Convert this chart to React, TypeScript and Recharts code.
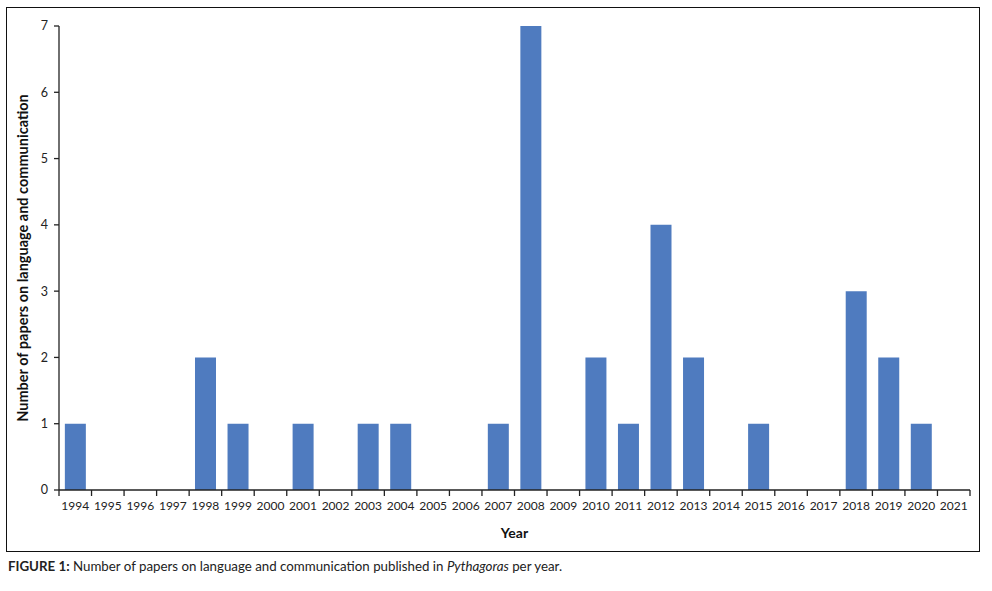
import React from "react";
import {BarChart, Bar, XAxis, YAxis} from "recharts";

const years = ["1994", "1995", "1996", "1997", "1998", "1999", "2000", "2001", "2002", "2003", "2004", "2005", "2006", "2007",
    "2008", "2009", "2010", "2011", "2012", "2013", "2014", "2015", "2016", "2017", "2018", "2019", "2020", "2021"];
const papers = [1, 0, 0, 0, 2, 1, 0, 1, 0, 1, 1, 0, 0, 1, 7, 0, 2, 1, 4, 2, 0, 1, 0, 0, 3, 2, 1, 0];
const yTicks = [0, 1, 2, 3, 4, 5, 6, 7];

const data = years.map((y, i) => ({year: y, value: papers[i]}));

const FONT = "Lato, 'Open Sans', sans-serif";
const BAR = "#4F7BBF";

const XTick = (props: any) => {
    const {x, y, payload, index} = props;
    const half = payload && payload.offset ? payload.offset : 16.25;
    const axisY = y - 12;
    return (
        <g>
            <line x1={x - half} x2={x - half} y1={axisY} y2={axisY + 6} stroke="#222" strokeWidth={1.3}/>
            {index === years.length - 1 && (
                <line x1={x + half} x2={x + half} y1={axisY} y2={axisY + 6} stroke="#222" strokeWidth={1.3}/>
            )}
            <text x={x} y={y} dy="0.7em" textAnchor="middle" fontSize={12} fill="#222" fontFamily={FONT}>
                {payload.value}
            </text>
        </g>
    );
};

const YTitle = ({viewBox}: any) => {
    const cx = viewBox.x + 22;
    const cy = viewBox.y + viewBox.height / 2;
    return (
        <text x={cx} y={cy} transform={`rotate(-90 ${cx} ${cy})`} textAnchor="middle" dominantBaseline="central"
              fontSize={14.5} fontWeight="bold" fill="#111" fontFamily={FONT}>
            Number of papers on language and communication
        </text>
    );
};

const XTitle = ({viewBox}: any) => {
    const cx = viewBox.x + viewBox.width / 2;
    return (
        <text x={cx} y={532} textAnchor="middle" dominantBaseline="central"
              fontSize={14} fontWeight="bold" fill="#111" fontFamily={FONT}>
            Year
        </text>
    );
};

const App = () => {
    return (
        <div style={{position: "absolute", left: 0, top: 0, width: 992, height: 591, background: "#fff", fontFamily: FONT}}>
            <div style={{position: "absolute", left: 6, top: 7, width: 972, height: 543, border: "1.6px solid #111"}}/>
            <div style={{position: "absolute", left: 0, top: 0}}>
                <BarChart width={992} height={591} data={data}
                          margin={{top: 26, right: 22, bottom: 71, left: 0}}
                          barCategoryGap="18%">
                    <XAxis dataKey="year" height={30} interval={0} tickSize={6} tickMargin={6} tickLine={false}
                           axisLine={{stroke: "#222", strokeWidth: 1.3}} tick={<XTick/>}
                           label={<XTitle/>}/>
                    <YAxis width={59} domain={[0, 7]} ticks={yTicks} interval={0} tickSize={5} tickMargin={6}
                           axisLine={{stroke: "#222", strokeWidth: 1.3}} tickLine={{stroke: "#222", strokeWidth: 1.3}}
                           tick={{fontSize: 12.5, fill: "#222", fontFamily: FONT}}
                           label={<YTitle/>}/>
                    <Bar dataKey="value" fill={BAR} isAnimationActive={false}/>
                </BarChart>
            </div>
            <div style={{position: "absolute", left: 8, top: 558, fontSize: 13.3, color: "#222", whiteSpace: "nowrap"}}>
                <b>FIGURE 1:</b> Number of papers on language and communication published in <i>Pythagoras</i> per year.
            </div>
        </div>
    );
};

export default App;
